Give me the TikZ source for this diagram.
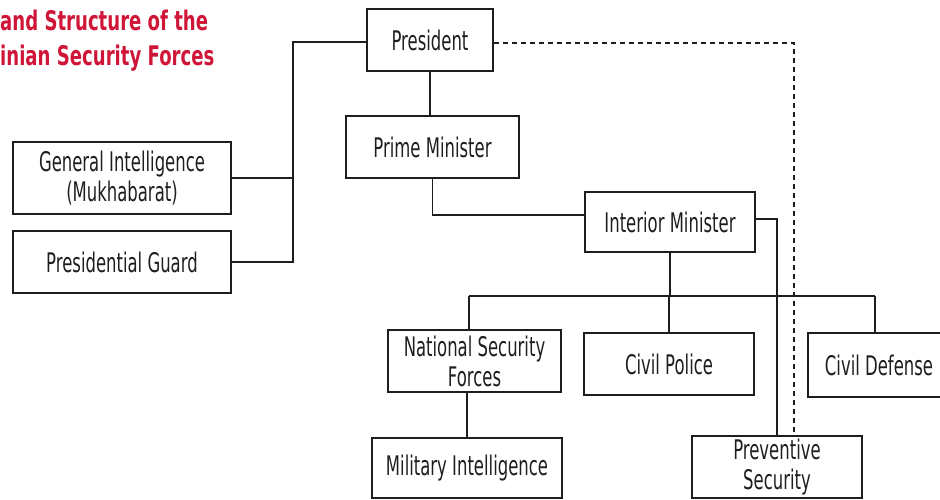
\documentclass[tikz,border=0pt]{standalone}
\usepackage{fontspec}
\setmainfont{DejaVu Sans}[FakeStretch=0.67]
\newfontfamily\boxfont{DejaVu Sans}[FakeStretch=0.61]
\definecolor{titlered}{RGB}{208,22,56}
\definecolor{ink}{RGB}{30,30,30}
\tikzset{
  orgbox/.style={draw=ink, line width=1.6pt, inner sep=0pt, align=center,
    font=\boxfont\fontsize{27}{30}\selectfont, text=ink},
  link/.style={draw=ink, line width=1.6pt},
  dashlink/.style={draw=ink, line width=1.2pt, dash pattern=on 5pt off 4pt},
  titletext/.style={anchor=base west, inner sep=0pt, text=titlered,
    font=\bfseries\fontsize{27}{32}\selectfont}
}
\begin{document}
\begin{tikzpicture}[x=1pt,y=-1pt]
\useasboundingbox (0,0) rectangle (940,500);
\clip (0,0) rectangle (940,500);
% title
\node[titletext] (t1) at (0,31) {and Structure of the};
\node[titletext] (t2) at (0,66) {inian Security Forces};
% boxes
\node[orgbox, minimum width=126, minimum height=62] (pres) at (430,40) {President};
\node[orgbox, minimum width=173, minimum height=62] (pm) at (432.5,147) {Prime Minister};
\node[orgbox, minimum width=218, minimum height=72] (gi) at (122,178) {General Intelligence\\(Mukhabarat)};
\node[orgbox, minimum width=218, minimum height=62] (pg) at (122,262) {Presidential Guard};
\node[orgbox, minimum width=170, minimum height=60] (im) at (670,222) {Interior Minister};
\node[orgbox, minimum width=173, minimum height=62] (nsf) at (474.5,361) {National Security\\Forces};
\node[orgbox, minimum width=170, minimum height=62] (cp) at (669,364) {Civil Police};
\node[orgbox, minimum width=142, minimum height=64] (cd) at (879,365) {Civil Defense};
\node[orgbox, minimum width=190, minimum height=60] (mi) at (467,468) {Military Intelligence};
\node[orgbox, minimum width=170, minimum height=62] (ps) at (777,467) {Preventive\\Security};
% helper coordinates
\coordinate (bx) at (293,0);
\coordinate (dx) at (794,0);
\coordinate (b1) at (469,296);
\coordinate (b3) at (875,296);
% left bracket
\draw[link] ([yshift=-2pt]pres.west) -- ([yshift=-2pt]pres.west -| bx) -- (pg.east -| bx) -- (pg.east);
\draw[link] (gi.east) -- (gi.east -| bx);
% president -> prime minister
\draw[link] (pres.south) -- (pres.south |- pm.north);
% prime minister -> interior minister
\draw[link] (pm.south) |- ([yshift=7pt]im.west);
% interior minister -> preventive security
\draw[link] ([yshift=3pt]im.east) -| (ps.north);
% interior minister -> bus
\draw[link] (im.south) -- (im.south |- b1);
\draw[link] (b1) -- (b3);
\draw[link] (b1) -- (b1 |- nsf.north);
\draw[link] (cp.north) -- (cp.north |- b1);
\draw[link] (b3) -- (b3 |- cd.north);
% nsf -> military intelligence
\draw[link] (mi.north) -- (mi.north |- nsf.south);
% dashed president -> preventive security
\draw[dashlink] ([yshift=-3pt]pres.east) -| (dx |- ps.north);
\end{tikzpicture}
\end{document}
